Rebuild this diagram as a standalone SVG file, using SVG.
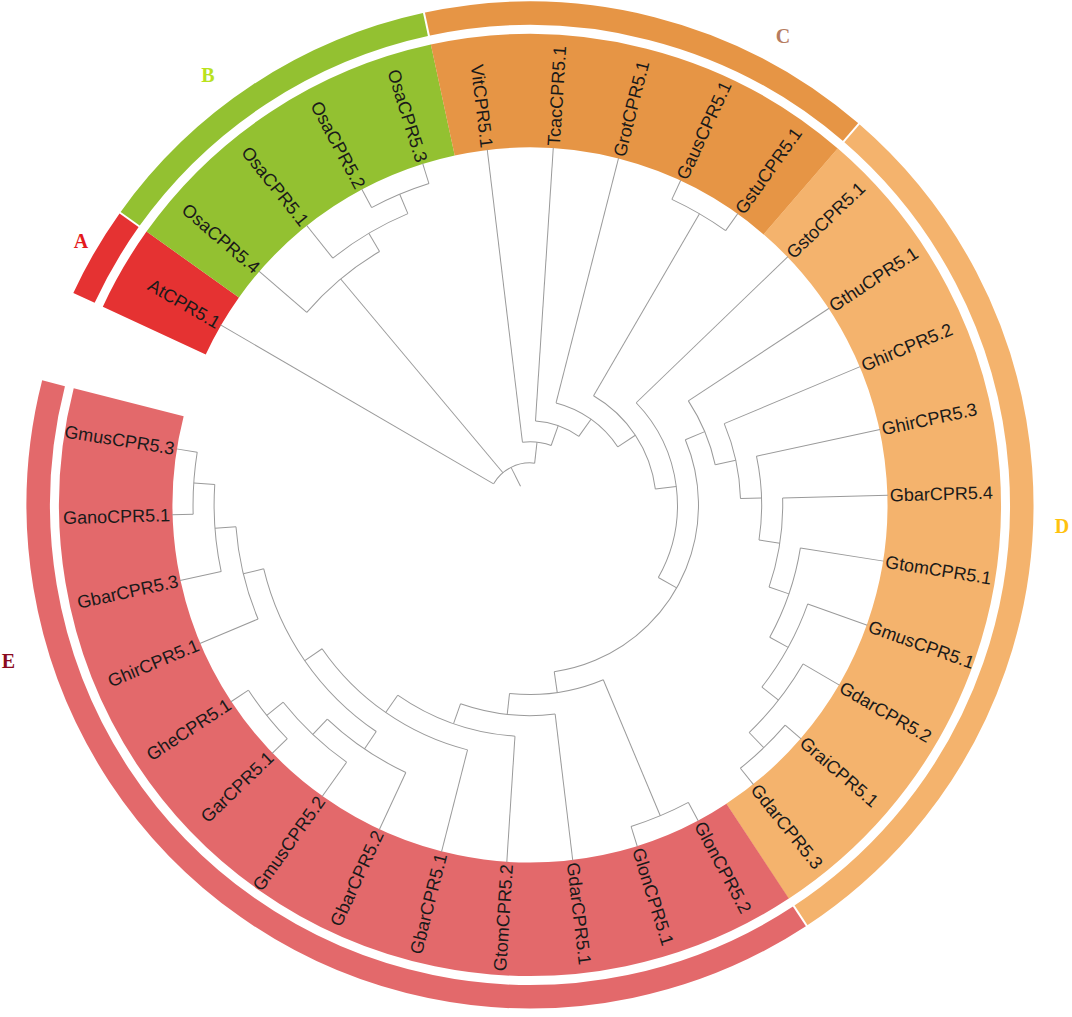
<svg xmlns="http://www.w3.org/2000/svg" width="1072" height="1017" viewBox="0 0 1072 1017">
<style>
.br line,.br circle{stroke:#9a9a9a;stroke-width:1;fill:none}
.lbl{font-family:"Liberation Sans",Arial,sans-serif;font-size:18px;fill:#1a1a1a}
.clade{font-family:"Liberation Serif","Times New Roman",serif;font-weight:bold;font-size:20px;text-anchor:middle}
.band{fill:none;stroke-width:113.5}
.ring{fill:none;stroke-width:23.5}
.sep{stroke:#ffffff;stroke-width:2}
</style>
<rect width="1072" height="1017" fill="#ffffff"/>
<g transform="translate(530,505)">
<g id="bands">
<circle class="band" r="414.25" stroke="#e53232" stroke-dasharray="76.55 4000" transform="rotate(204.906)"/>
<circle class="band" r="414.25" stroke="#93c131" stroke-dasharray="306.18 4000" transform="rotate(215.494)"/>
<circle class="band" r="414.25" stroke="#e69545" stroke-dasharray="382.76 4000" transform="rotate(257.843)"/>
<circle class="band" r="414.25" stroke="#f4b36d" stroke-dasharray="765.53 4000" transform="rotate(310.784)"/>
<circle class="band" r="414.25" stroke="#e3696b" stroke-dasharray="995.19 4000" transform="rotate(56.667)"/>
<circle class="ring" r="491.75" stroke="#e53232" stroke-dasharray="90.87 4000" transform="rotate(204.906)"/>
<circle class="ring" r="491.75" stroke="#93c131" stroke-dasharray="363.47 4000" transform="rotate(215.494)"/>
<circle class="ring" r="491.75" stroke="#e69545" stroke-dasharray="454.37 4000" transform="rotate(257.843)"/>
<circle class="ring" r="491.75" stroke="#f4b36d" stroke-dasharray="908.76 4000" transform="rotate(310.784)"/>
<circle class="ring" r="491.75" stroke="#e3696b" stroke-dasharray="1181.38 4000" transform="rotate(56.667)"/>
<line class="sep" x1="478" x2="506" transform="rotate(215.494)"/>
<line class="sep" x1="478" x2="506" transform="rotate(257.843)"/>
<line class="sep" x1="478" x2="506" transform="rotate(310.784)"/>
<line class="sep" x1="478" x2="506" transform="rotate(56.667)"/>
</g>
<g id="connectors" class="br">
<circle r="42.12" stroke-dasharray="48.63 3000" transform="rotate(210.2)"/>
<circle r="63.18" stroke-dasharray="29.14 3000" transform="rotate(263.14)"/>
<circle r="84.24" stroke-dasharray="46.57 3000" transform="rotate(273.73)"/>
<circle r="105.3" stroke-dasharray="77.49 3000" transform="rotate(284.32)"/>
<circle r="126.36" stroke-dasharray="115.96 3000" transform="rotate(300.195)"/>
<circle r="147.42" stroke-dasharray="188.84 3000" transform="rotate(316.08)"/>
<circle r="168.48" stroke-dasharray="307.33 3000" transform="rotate(337.216)"/>
<circle r="189.54" stroke-dasharray="69.77 3000" transform="rotate(326.67)"/>
<circle r="210.6" stroke-dasharray="77.21 3000" transform="rotate(337.26)"/>
<circle r="231.66" stroke-dasharray="84.30 3000" transform="rotate(347.84)"/>
<circle r="252.72" stroke-dasharray="90.50 3000" transform="rotate(358.43)"/>
<circle r="273.78" stroke-dasharray="94.87 3000" transform="rotate(9.02)"/>
<circle r="294.84" stroke-dasharray="95.34 3000" transform="rotate(19.61)"/>
<circle r="315.9" stroke-dasharray="87.53 3000" transform="rotate(30.2)"/>
<circle r="336.96" stroke-dasharray="62.28 3000" transform="rotate(40.78)"/>
<circle r="336.96" stroke-dasharray="62.28 3000" transform="rotate(294.9)"/>
<circle r="294.84" stroke-dasharray="95.34 3000" transform="rotate(220.79)"/>
<circle r="315.9" stroke-dasharray="87.53 3000" transform="rotate(231.38)"/>
<circle r="336.96" stroke-dasharray="62.28 3000" transform="rotate(241.96)"/>
<circle r="189.54" stroke-dasharray="95.77 3000" transform="rotate(67.255)"/>
<circle r="336.96" stroke-dasharray="62.28 3000" transform="rotate(61.96)"/>
<circle r="210.6" stroke-dasharray="96.05 3000" transform="rotate(83.14)"/>
<circle r="231.66" stroke-dasharray="125.76 3000" transform="rotate(93.72)"/>
<circle r="252.72" stroke-dasharray="180.97 3000" transform="rotate(104.31)"/>
<circle r="273.78" stroke-dasharray="202.37 3000" transform="rotate(124.165)"/>
<circle r="294.84" stroke-dasharray="95.36 3000" transform="rotate(114.9)"/>
<circle r="315.9" stroke-dasharray="87.55 3000" transform="rotate(125.49)"/>
<circle r="336.96" stroke-dasharray="62.22 3000" transform="rotate(136.08)"/>
<circle r="294.84" stroke-dasharray="95.37 3000" transform="rotate(157.25)"/>
<circle r="315.9" stroke-dasharray="87.58 3000" transform="rotate(167.84)"/>
<circle r="336.96" stroke-dasharray="62.28 3000" transform="rotate(178.43)"/>
<line x1="21.06" x2="42.12" transform="rotate(243.277)"/>
<line x1="42.12" x2="358.02" transform="rotate(210.2)"/>
<line x1="42.12" x2="294.84" transform="rotate(230.054)"/>
<line x1="42.12" x2="63.18" transform="rotate(276.353)"/>
<line x1="63.18" x2="358.02" transform="rotate(263.14)"/>
<line x1="63.18" x2="84.24" transform="rotate(289.5665)"/>
<line x1="84.24" x2="358.02" transform="rotate(273.73)"/>
<line x1="84.24" x2="105.3" transform="rotate(305.403)"/>
<line x1="105.3" x2="358.02" transform="rotate(284.32)"/>
<line x1="105.3" x2="126.36" transform="rotate(326.486)"/>
<line x1="126.36" x2="336.96" transform="rotate(300.195)"/>
<line x1="126.36" x2="147.42" transform="rotate(352.7765)"/>
<line x1="336.96" x2="358.02" transform="rotate(294.9)"/>
<line x1="336.96" x2="358.02" transform="rotate(305.49)"/>
<line x1="147.42" x2="358.02" transform="rotate(316.08)"/>
<line x1="147.42" x2="168.48" transform="rotate(29.473)"/>
<line x1="168.48" x2="189.54" transform="rotate(337.216)"/>
<line x1="168.48" x2="189.54" transform="rotate(81.73)"/>
<line x1="189.54" x2="358.02" transform="rotate(326.67)"/>
<line x1="189.54" x2="210.6" transform="rotate(347.762)"/>
<line x1="210.6" x2="358.02" transform="rotate(337.26)"/>
<line x1="210.6" x2="231.66" transform="rotate(358.2645)"/>
<line x1="231.66" x2="358.02" transform="rotate(347.84)"/>
<line x1="231.66" x2="252.72" transform="rotate(8.689)"/>
<line x1="252.72" x2="358.02" transform="rotate(358.43)"/>
<line x1="252.72" x2="273.78" transform="rotate(18.947)"/>
<line x1="273.78" x2="358.02" transform="rotate(9.02)"/>
<line x1="273.78" x2="294.84" transform="rotate(28.874)"/>
<line x1="294.84" x2="358.02" transform="rotate(19.61)"/>
<line x1="294.84" x2="315.9" transform="rotate(38.1375)"/>
<line x1="315.9" x2="358.02" transform="rotate(30.2)"/>
<line x1="315.9" x2="336.96" transform="rotate(46.075)"/>
<line x1="336.96" x2="358.02" transform="rotate(40.78)"/>
<line x1="336.96" x2="358.02" transform="rotate(51.37)"/>
<line x1="189.54" x2="336.96" transform="rotate(67.255)"/>
<line x1="336.96" x2="358.02" transform="rotate(61.96)"/>
<line x1="336.96" x2="358.02" transform="rotate(72.55)"/>
<line x1="189.54" x2="210.6" transform="rotate(96.205)"/>
<line x1="210.6" x2="358.02" transform="rotate(83.14)"/>
<line x1="210.6" x2="231.66" transform="rotate(109.27)"/>
<line x1="231.66" x2="358.02" transform="rotate(93.72)"/>
<line x1="231.66" x2="252.72" transform="rotate(124.825)"/>
<line x1="252.72" x2="358.02" transform="rotate(104.31)"/>
<line x1="252.72" x2="273.78" transform="rotate(145.34)"/>
<line x1="273.78" x2="294.84" transform="rotate(124.165)"/>
<line x1="273.78" x2="294.84" transform="rotate(166.516)"/>
<line x1="294.84" x2="358.02" transform="rotate(114.9)"/>
<line x1="294.84" x2="315.9" transform="rotate(133.43)"/>
<line x1="315.9" x2="358.02" transform="rotate(125.49)"/>
<line x1="315.9" x2="336.96" transform="rotate(141.37)"/>
<line x1="336.96" x2="358.02" transform="rotate(136.08)"/>
<line x1="336.96" x2="358.02" transform="rotate(146.66)"/>
<line x1="294.84" x2="358.02" transform="rotate(157.25)"/>
<line x1="294.84" x2="315.9" transform="rotate(175.7825)"/>
<line x1="315.9" x2="358.02" transform="rotate(167.84)"/>
<line x1="315.9" x2="336.96" transform="rotate(183.725)"/>
<line x1="336.96" x2="358.02" transform="rotate(178.43)"/>
<line x1="336.96" x2="358.02" transform="rotate(189.02)"/>
<line x1="294.84" x2="358.02" transform="rotate(220.79)"/>
<line x1="294.84" x2="315.9" transform="rotate(239.3175)"/>
<line x1="315.9" x2="358.02" transform="rotate(231.38)"/>
<line x1="315.9" x2="336.96" transform="rotate(247.255)"/>
<line x1="336.96" x2="358.02" transform="rotate(241.96)"/>
<line x1="336.96" x2="358.02" transform="rotate(252.55)"/>
</g>
<g id="leaves" class="lbl">
<g id="leaf-AtCPR5.1"><text transform="rotate(210.2) translate(360,0) rotate(180)" text-anchor="end" dy="0.35em">AtCPR5.1</text></g>
<g id="leaf-OsaCPR5.4"><text transform="rotate(220.79) translate(360,0) rotate(180)" text-anchor="end" dy="0.35em">OsaCPR5.4</text></g>
<g id="leaf-OsaCPR5.1"><text transform="rotate(231.38) translate(360,0) rotate(180)" text-anchor="end" dy="0.35em">OsaCPR5.1</text></g>
<g id="leaf-OsaCPR5.2"><text transform="rotate(241.96) translate(360,0) rotate(180)" text-anchor="end" dy="0.35em">OsaCPR5.2</text></g>
<g id="leaf-OsaCPR5.3"><text transform="rotate(252.55) translate(360,0) rotate(180)" text-anchor="end" dy="0.35em">OsaCPR5.3</text></g>
<g id="leaf-VitCPR5.1"><text transform="rotate(263.14) translate(360,0) rotate(180)" text-anchor="end" dy="0.35em">VitCPR5.1</text></g>
<g id="leaf-TcacCPR5.1"><text transform="rotate(273.73) translate(360,0)" dy="0.35em">TcacCPR5.1</text></g>
<g id="leaf-GrotCPR5.1"><text transform="rotate(284.32) translate(360,0)" dy="0.35em">GrotCPR5.1</text></g>
<g id="leaf-GausCPR5.1"><text transform="rotate(294.9) translate(360,0)" dy="0.35em">GausCPR5.1</text></g>
<g id="leaf-GstuCPR5.1"><text transform="rotate(305.49) translate(360,0)" dy="0.35em">GstuCPR5.1</text></g>
<g id="leaf-GstoCPR5.1"><text transform="rotate(316.08) translate(360,0)" dy="0.35em">GstoCPR5.1</text></g>
<g id="leaf-GthuCPR5.1"><text transform="rotate(326.67) translate(360,0)" dy="0.35em">GthuCPR5.1</text></g>
<g id="leaf-GhirCPR5.2"><text transform="rotate(337.26) translate(360,0)" dy="0.35em">GhirCPR5.2</text></g>
<g id="leaf-GhirCPR5.3"><text transform="rotate(347.84) translate(360,0)" dy="0.35em">GhirCPR5.3</text></g>
<g id="leaf-GbarCPR5.4"><text transform="rotate(358.43) translate(360,0)" dy="0.35em">GbarCPR5.4</text></g>
<g id="leaf-GtomCPR5.1"><text transform="rotate(9.02) translate(360,0)" dy="0.35em">GtomCPR5.1</text></g>
<g id="leaf-GmusCPR5.1"><text transform="rotate(19.61) translate(360,0)" dy="0.35em">GmusCPR5.1</text></g>
<g id="leaf-GdarCPR5.2"><text transform="rotate(30.2) translate(360,0)" dy="0.35em">GdarCPR5.2</text></g>
<g id="leaf-GraiCPR5.1"><text transform="rotate(40.78) translate(360,0)" dy="0.35em">GraiCPR5.1</text></g>
<g id="leaf-GdarCPR5.3"><text transform="rotate(51.37) translate(360,0)" dy="0.35em">GdarCPR5.3</text></g>
<g id="leaf-GlonCPR5.2"><text transform="rotate(61.96) translate(360,0)" dy="0.35em">GlonCPR5.2</text></g>
<g id="leaf-GlonCPR5.1"><text transform="rotate(72.55) translate(360,0)" dy="0.35em">GlonCPR5.1</text></g>
<g id="leaf-GdarCPR5.1"><text transform="rotate(83.14) translate(360,0)" dy="0.35em">GdarCPR5.1</text></g>
<g id="leaf-GtomCPR5.2"><text transform="rotate(93.72) translate(360,0) rotate(180)" text-anchor="end" dy="0.35em">GtomCPR5.2</text></g>
<g id="leaf-GbarCPR5.1"><text transform="rotate(104.31) translate(360,0) rotate(180)" text-anchor="end" dy="0.35em">GbarCPR5.1</text></g>
<g id="leaf-GbarCPR5.2"><text transform="rotate(114.9) translate(360,0) rotate(180)" text-anchor="end" dy="0.35em">GbarCPR5.2</text></g>
<g id="leaf-GmusCPR5.2"><text transform="rotate(125.49) translate(360,0) rotate(180)" text-anchor="end" dy="0.35em">GmusCPR5.2</text></g>
<g id="leaf-GarCPR5.1"><text transform="rotate(136.08) translate(360,0) rotate(180)" text-anchor="end" dy="0.35em">GarCPR5.1</text></g>
<g id="leaf-GheCPR5.1"><text transform="rotate(146.66) translate(360,0) rotate(180)" text-anchor="end" dy="0.35em">GheCPR5.1</text></g>
<g id="leaf-GhirCPR5.1"><text transform="rotate(157.25) translate(360,0) rotate(180)" text-anchor="end" dy="0.35em">GhirCPR5.1</text></g>
<g id="leaf-GbarCPR5.3"><text transform="rotate(167.84) translate(360,0) rotate(180)" text-anchor="end" dy="0.35em">GbarCPR5.3</text></g>
<g id="leaf-GanoCPR5.1"><text transform="rotate(178.43) translate(360,0) rotate(180)" text-anchor="end" dy="0.35em">GanoCPR5.1</text></g>
<g id="leaf-GmusCPR5.3"><text transform="rotate(189.02) translate(360,0) rotate(180)" text-anchor="end" dy="0.35em">GmusCPR5.3</text></g>
</g>
</g>
<g id="clade-labels" class="clade">
<text x="81" y="248" fill="#e41a1c">A</text>
<text x="208" y="82" fill="#b9e21e">B</text>
<text x="783" y="42.5" fill="#b67c5f">C</text>
<text x="1062" y="533" fill="#ffc20e">D</text>
<text x="8.5" y="668" fill="#8b0a1e">E</text>
</g>
</svg>
